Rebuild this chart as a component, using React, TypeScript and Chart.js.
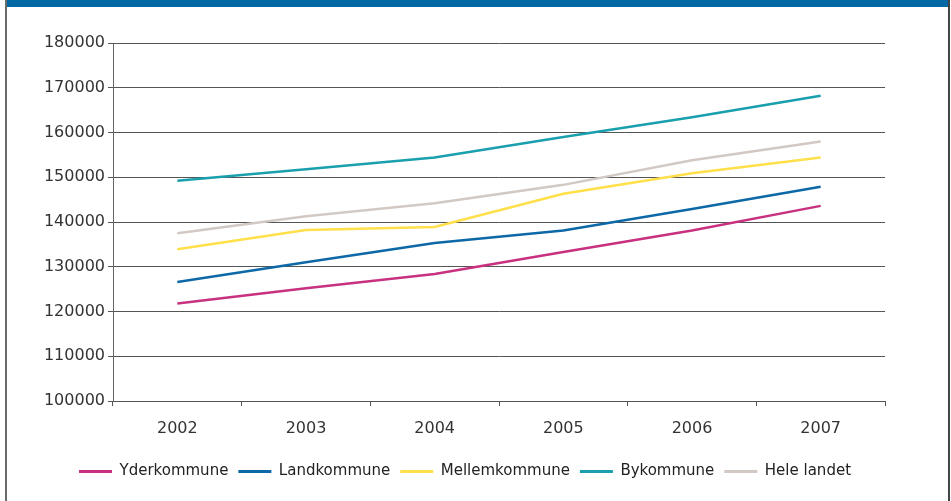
import React, { useEffect, useRef } from "react";
import { Chart, registerables } from "chart.js";

Chart.register(...registerables);

const years = ["2002", "2003", "2004", "2005", "2006", "2007"];
const yderkommune = [121800, 125200, 128400, 133300, 138100, 143600];
const landkommune = [126600, 131000, 135300, 138100, 142900, 147900];
const mellemkommune = [133900, 138200, 138900, 146300, 150900, 154400];
const bykommune = [149200, 151800, 154400, 159000, 163400, 168200];
const heleLandet = [137500, 141300, 144200, 148300, 153800, 158000];

const seriesNames = ["Yderkommune", "Landkommune", "Mellemkommune", "Bykommune", "Hele landet"];
const seriesColors = ["#C8317F", "#0D68A8", "#FFE04A", "#1A9FAE", "#D3C9C4"];
const seriesValues = [yderkommune, landkommune, mellemkommune, bykommune, heleLandet];

const yMin = 100000;
const yMax = 180000;
const yStep = 10000;

const FONT = "'DejaVu Sans', sans-serif";

export default function App() {
  const canvasRef = useRef<HTMLCanvasElement | null>(null);

  useEffect(() => {
    const canvas = canvasRef.current;
    if (!canvas) return;
    const chart = new Chart(canvas, {
      type: "line",
      data: {
        labels: years,
        datasets: seriesNames.map((name, i) => ({
          label: name,
          data: seriesValues[i],
          borderColor: seriesColors[i],
          backgroundColor: seriesColors[i],
          borderWidth: 2.5,
          pointRadius: 0,
          tension: 0,
          fill: false,
        })),
      },
      options: {
        animation: false,
        responsive: false,
        maintainAspectRatio: false,
        layout: { padding: { left: 45, right: 66, top: 43, bottom: 12 } },
        plugins: {
          tooltip: { enabled: false },
          legend: {
            position: "bottom",
            labels: {
              boxWidth: 33,
              boxHeight: 3,
              padding: 10,
              color: "#222",
              font: { family: FONT, size: 15 },
              generateLabels: (c: any) =>
                Chart.defaults.plugins.legend.labels
                  .generateLabels(c)
                  .map((l: any) => ({ ...l, lineWidth: 0 })),
            },
          },
        },
        scales: {
          x: {
            offset: true,
            grid: {
              offset: true,
              drawOnChartArea: false,
              drawTicks: true,
              tickLength: 5,
              color: "#555",
            },
            border: { display: true, color: "#555", width: 1 },
            ticks: { color: "#333", font: { family: FONT, size: 16 }, padding: 13 },
            afterFit: (s: any) => {
              s.height = 53;
            },
          },
          y: {
            min: yMin,
            max: yMax,
            grid: { color: "#555", lineWidth: 1, tickLength: 5 },
            border: { display: true, color: "#666", width: 1 },
            ticks: {
              stepSize: yStep,
              color: "#333",
              padding: 3,
              font: { family: FONT, size: 16 },
              callback: (v: any) => String(v),
            },
            afterFit: (s: any) => {
              s.width = 68;
            },
          },
        },
      },
    });
    return () => chart.destroy();
  }, []);

  return (
    <div
      style={{
        position: "fixed",
        left: 0,
        top: 0,
        width: 951,
        height: 501,
        background: "#fff",
        overflow: "hidden",
      }}
    >
      <canvas
        ref={canvasRef}
        width={951}
        height={501}
        style={{ position: "absolute", left: 0, top: 0, width: 951, height: 501, display: "block" }}
      />
      <div style={{ position: "absolute", left: 7, top: 0, width: 941, height: 7, background: "#0068A5" }} />
      <div style={{ position: "absolute", left: 5, top: 0, width: 2, height: 501, background: "#6a6a6a" }} />
      <div style={{ position: "absolute", left: 948, top: 0, width: 2, height: 501, background: "#444" }} />
    </div>
  );
}
